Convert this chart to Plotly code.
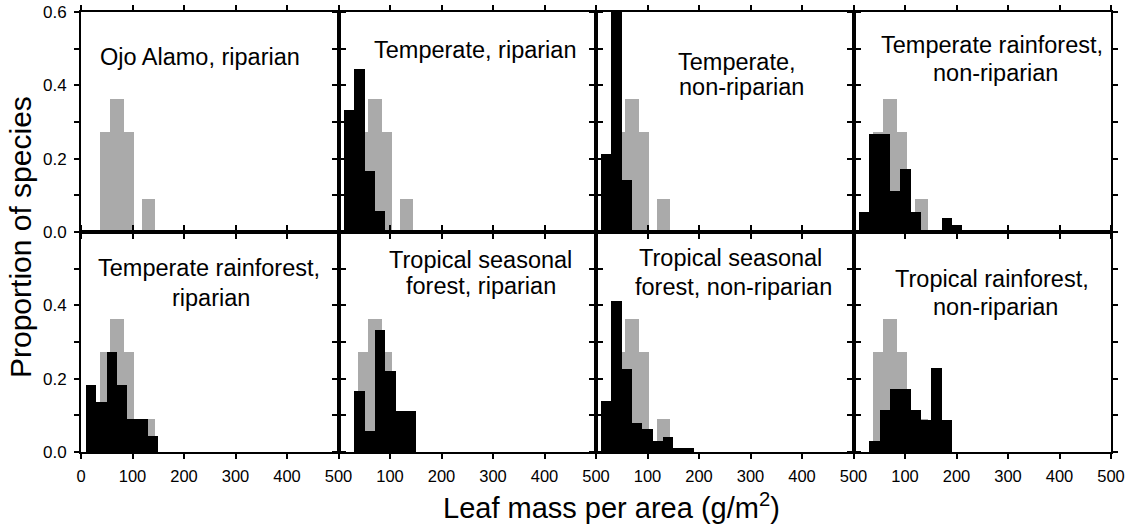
import plotly.graph_objects as go
from plotly.subplots import make_subplots

# ---------------- data ----------------
panel_titles = [
    ["Ojo Alamo, riparian"],
    ["Temperate, riparian"],
    ["Temperate,", "non-riparian"],
    ["Temperate rainforest,", "non-riparian"],
    ["Temperate rainforest,", "riparian"],
    ["Tropical seasonal", "forest, riparian"],
    ["Tropical seasonal", "forest, non-riparian"],
    ["Tropical rainforest,", "non-riparian"],
]

# Ojo Alamo reference distribution (gray, repeated in every panel)
gray_bin_lo = [37, 57, 83, 118]
gray_bin_hi = [57, 83, 103, 144]
gray_values = [0.273, 0.364, 0.273, 0.091]

# Modern floras (black); bins of 20 g/m2
black_bin_lo = [10, 30, 50, 70, 90, 110, 130, 150, 170, 190]
black_bin_hi = [30, 50, 70, 90, 110, 130, 150, 170, 190, 210]
black_ojo_alamo = [0, 0, 0, 0, 0, 0, 0, 0, 0, 0]
black_temperate_rip = [0.333, 0.444, 0.167, 0.056, 0, 0, 0, 0, 0, 0]
black_temperate_nonrip = [0.214, 0.643, 0.143, 0, 0, 0, 0, 0, 0, 0]
black_temp_rf_nonrip = [0.055, 0.268, 0.268, 0.113, 0.171, 0.055, 0, 0, 0.037, 0.018]
black_temp_rf_rip = [0.182, 0.136, 0.273, 0.182, 0.091, 0.091, 0.045, 0, 0, 0]
black_trop_seas_rip = [0, 0.167, 0.056, 0.333, 0.222, 0.111, 0.111, 0, 0, 0]
black_trop_seas_nonrip = [0.138, 0.411, 0.226, 0.080, 0.062, 0.029, 0.041, 0.011, 0.011, 0]
black_trop_rf_nonrip = [0, 0.029, 0.114, 0.171, 0.171, 0.114, 0.086, 0.229, 0.086, 0]

black_series = [black_ojo_alamo, black_temperate_rip, black_temperate_nonrip,
                black_temp_rf_nonrip, black_temp_rf_rip, black_trop_seas_rip,
                black_trop_seas_nonrip, black_trop_rf_nonrip]
show_gray = [True] * 8

x_ticks = [0, 100, 200, 300, 400, 500]
y_ticks = [0, 0.1, 0.2, 0.3, 0.4, 0.5, 0.6]

# ---------------- layout constants ----------------
W, H = 1136, 530
ML, MR, MT, MB = 81, 25, 12, 78
FONT = "Liberation Sans, Arial, Helvetica, sans-serif"
GRAY = "#aaaaaa"

# title line positions in pixels (centre x, centre y)
title_pos = [
    [(200, 57)],
    [(475, 50)],
    [(737, 62), (741, 87)],
    [(992, 45), (995, 73)],
    [(209, 268), (211, 298)],
    [(480, 260), (481, 286)],
    [(730, 258), (733, 287)],
    [(992, 279), (995, 307)],
]

fig = make_subplots(rows=2, cols=4, horizontal_spacing=0, vertical_spacing=0)

for i in range(8):
    r, c = i // 4 + 1, i % 4 + 1
    if show_gray[i]:
        fig.add_trace(go.Bar(
            x=[(a + b) / 2 for a, b in zip(gray_bin_lo, gray_bin_hi)],
            y=gray_values,
            width=[b - a for a, b in zip(gray_bin_lo, gray_bin_hi)],
            marker=dict(color=GRAY, line=dict(width=0)),
            showlegend=False, hoverinfo="skip"), row=r, col=c)
    vals = black_series[i]
    xs = [(a + b) / 2 for a, b, v in zip(black_bin_lo, black_bin_hi, vals) if v > 0]
    ws = [b - a for a, b, v in zip(black_bin_lo, black_bin_hi, vals) if v > 0]
    ys = [v for v in vals if v > 0]
    if ys:
        fig.add_trace(go.Bar(
            x=xs, y=ys, width=ws,
            marker=dict(color="black", line=dict(width=0)),
            showlegend=False, hoverinfo="skip"), row=r, col=c)

    # x axis
    xtext = [str(t) for t in x_ticks]
    if c > 1:
        xtext[0] = ""
    fig.update_xaxes(
        range=[0, 500], tickmode="array", tickvals=x_ticks, ticktext=xtext,
        showticklabels=(r == 2), ticks="outside", ticklen=5, tickwidth=2,
        tickcolor="black", showline=True, linewidth=2, linecolor="black",
        mirror="ticks", showgrid=False, zeroline=False, automargin=False,
        tickfont=dict(family=FONT, size=16.5, color="black"),
        ticklabelstandoff=3,
        row=r, col=c)
    # y axis
    if r == 1:
        ytext = ["0.0", "", "0.2", "", "0.4", "", "0.6"]
    else:
        ytext = ["0.0", "", "0.2", "", "0.4", "", ""]
    fig.update_yaxes(
        range=[0, 0.6], tickmode="array", tickvals=y_ticks, ticktext=ytext,
        showticklabels=(c == 1), ticks="outside", ticklen=5, tickwidth=2,
        tickcolor="black", showline=True, linewidth=2, linecolor="black",
        mirror="ticks", showgrid=False, zeroline=False, automargin=False,
        tickfont=dict(family=FONT, size=17, color="black"),
        ticklabelstandoff=4,
        row=r, col=c)

    # panel titles
    for text, (px, py) in zip(panel_titles[i], title_pos[i]):
        fig.add_annotation(
            x=(px - ML) / (W - ML - MR), y=(H - MB - py) / (H - MT - MB),
            xref="paper", yref="paper", text=text, showarrow=False,
            xanchor="center", yanchor="middle",
            font=dict(family=FONT, size=23.5, color="black"))

# axis titles
fig.add_annotation(
    x=(611 - ML) / (W - ML - MR), y=(H - MB - 506) / (H - MT - MB),
    xref="paper", yref="paper", text="Leaf mass per area (g/m<sup>2</sup>)",
    showarrow=False, xanchor="center", yanchor="middle",
    font=dict(family=FONT, size=29, color="black"))
fig.add_annotation(
    x=(20 - ML) / (W - ML - MR), y=(H - MB - 237) / (H - MT - MB),
    xref="paper", yref="paper", text="Proportion of species", textangle=-90,
    showarrow=False, xanchor="center", yanchor="middle",
    font=dict(family=FONT, size=30, color="black"))

fig.update_layout(
    width=W, height=H, barmode="overlay", bargap=0,
    margin=dict(l=ML, r=MR, t=MT, b=MB, autoexpand=False),
    paper_bgcolor="white", plot_bgcolor="white",
    font=dict(family=FONT, color="black"),
)

fig.write_html("out.html", config={"displayModeBar": False},
               post_script="document.body.style.margin='0';document.body.style.overflow='hidden';")
